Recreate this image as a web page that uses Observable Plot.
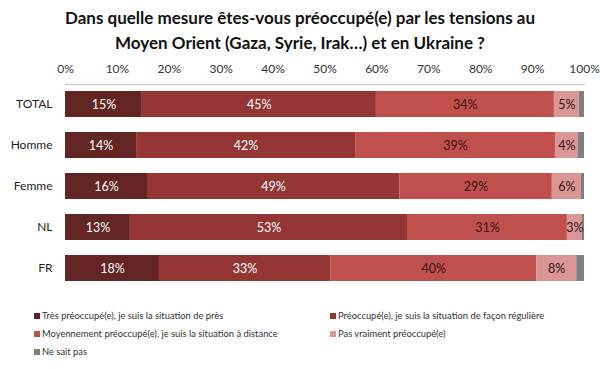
<!DOCTYPE html>
<html>
<head>
<meta charset="utf-8">
<script src="https://cdn.jsdelivr.net/npm/d3@7"></script>
<script src="https://cdn.jsdelivr.net/npm/@observablehq/plot@0.6"></script>
<style>
  body { margin: 0; background: #fff; font-family: Lato, "Open Sans", sans-serif; }
  #wrap { width: 600px; height: 369px; position: relative; overflow: hidden; }
  #title { position: absolute; top: 5px; left: 0; width: 600px; text-align: center;
           font: bold 17px Lato, sans-serif; line-height: 25px; color: #111; }
  #chart { position: absolute; top: 52px; left: 0; }
  #legend { position: absolute; top: 310px; left: 34px; width: 560px; font: 9.4px Lato, sans-serif; color: #333; }
  .li { position: absolute; white-space: nowrap; display: flex; align-items: center; }
  .sw { width: 6px; height: 6px; margin-right: 2px; display: inline-block; }
</style>
</head>
<body>
<div id="wrap">
  <div id="title">Dans quelle mesure êtes-vous préoccupé(e) par les tensions au<br>Moyen Orient (Gaza, Syrie, Irak…) et en Ukraine ?</div>
  <div id="chart"></div>
  <div id="legend"></div>
</div>
<script>
const categories = ["TOTAL", "Homme", "Femme", "NL", "FR"];
const series = [
  "Très préoccupé(e), je suis la situation de près",
  "Préoccupé(e), je suis la situation de façon régulière",
  "Moyennement préoccupé(e), je suis la situation à distance",
  "Pas vraiment préoccupé(e)",
  "Ne sait pas"
];
const colors = ["#632523", "#943634", "#c0504d", "#d99694", "#7f7f7f"];
const labelColors = ["#ffffff", "#ffffff", "#3a1010", "#3a1010", "#3a1010"];
const tresPreoccupe = [14.8, 13.7, 15.8, 12.5, 18.1];
const preoccupe     = [45.1, 42.2, 48.6, 53.4, 33.0];
const moyennement   = [34.3, 38.5, 29.4, 30.8, 39.7];
const pasVraiment   = [4.8, 4.4, 5.6, 2.9, 7.7];
const neSaitPas     = [1.0, 1.2, 0.6, 0.4, 1.5];
const xTicks = [0, 10, 20, 30, 40, 50, 60, 70, 80, 90, 100];

const cols = [tresPreoccupe, preoccupe, moyennement, pasVraiment, neSaitPas];
const rows = [];
categories.forEach((c, i) => {
  let start = 0;
  cols.forEach((arr, s) => {
    const v = arr[i];
    rows.push({cat: c, s, series: series[s], value: v, x1: start, x2: start + v});
    start += v;
  });
});
const labeled = rows.filter(d => d.s < 4);

const chart = Plot.plot({
  width: 600,
  height: 244,
  marginLeft: 65,
  marginRight: 16,
  marginTop: 32,
  marginBottom: 8,
  style: {fontFamily: "Lato, sans-serif", background: "transparent"},
  x: {domain: [0, 100], axis: null},
  y: {domain: categories, paddingInner: 0.373, paddingOuter: 0.1446, axis: null},
  color: {domain: series, range: colors},
  marks: [
    Plot.frame({anchor: "top", stroke: "#d0d0d0", strokeWidth: 1.5}),
    Plot.axisX(xTicks, {anchor: "top", label: null, tickSize: 0, tickPadding: 12, tickFormat: d => d + "%", fontSize: 12, fill: "#333"}),
    Plot.axisY({label: null, tickSize: 0, tickPadding: 13, fontSize: 12, fill: "#222"}),
    Plot.barX(rows, {y: "cat", x1: "x1", x2: "x2", fill: "series"}),
    Plot.text(labeled, {y: "cat", x: d => (d.x1 + d.x2) / 2, text: d => Math.round(d.value) + "%",
      fill: d => labelColors[d.s], fontSize: 12.5})
  ]
});
document.getElementById("chart").appendChild(chart);

const legendPos = [[0, 0], [296, 0], [0, 18], [296, 18], [0, 36]];
const lg = document.getElementById("legend");
series.forEach((s, i) => {
  const el = document.createElement("div");
  el.className = "li";
  el.style.left = legendPos[i][0] + "px";
  el.style.top = legendPos[i][1] + "px";
  el.innerHTML = `<span class="sw" style="background:${colors[i]}"></span>${s}`;
  lg.appendChild(el);
});
</script>
</body>
</html>
